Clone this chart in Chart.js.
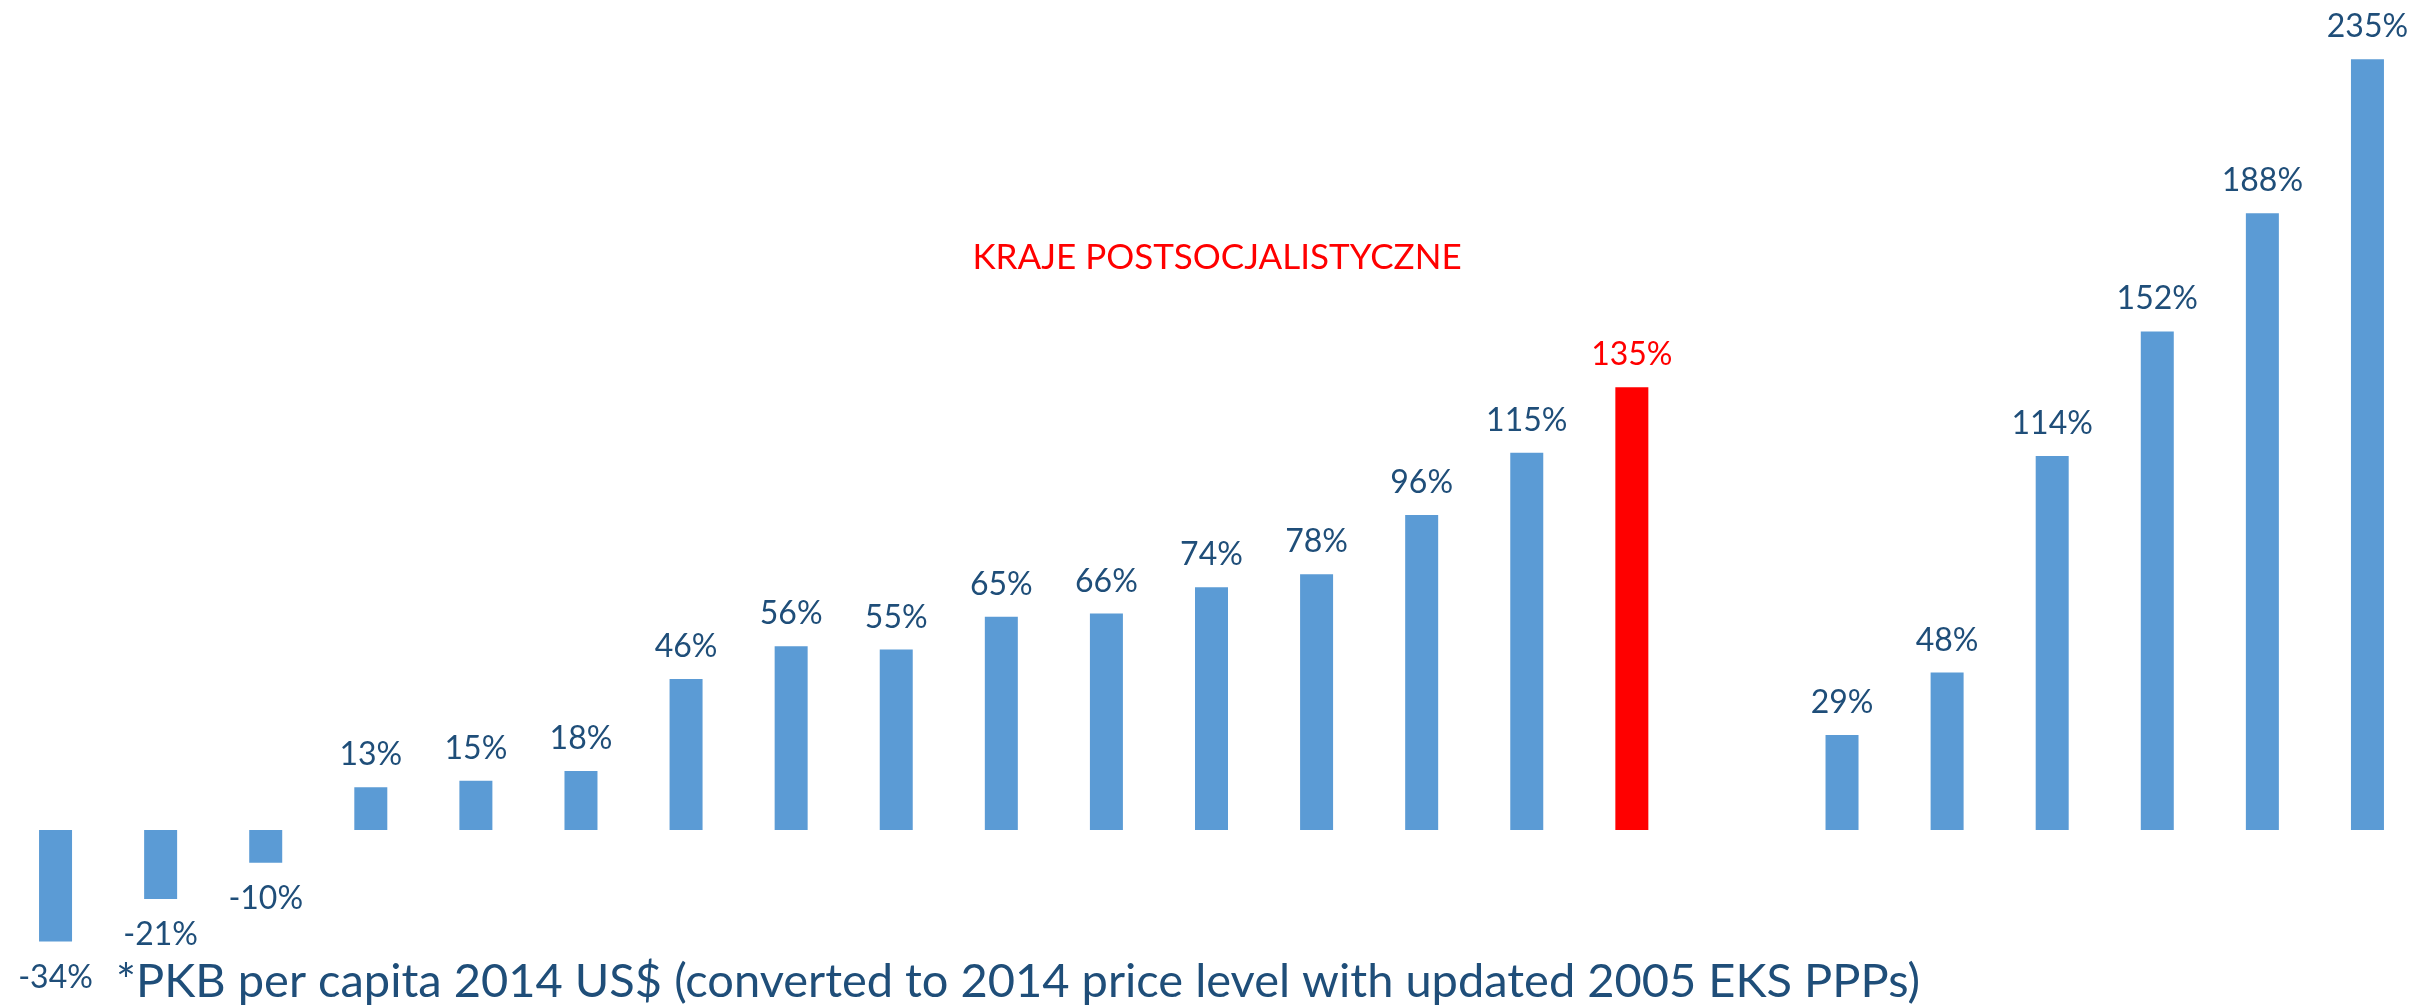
<!DOCTYPE html>
<html>
<head>
<meta charset="utf-8">
<script src="https://cdn.jsdelivr.net/npm/chart.js@4.4.1/dist/chart.umd.min.js"></script>
<style>
    html, body { margin: 0; padding: 0; background: #fff; }
    #wrap { width: 2420px; height: 1005px; }
</style>
</head>
<body>
<div id="wrap"><canvas id="gdpChart" width="2420" height="1005"></canvas></div>
<script>
// one slot per country, slot 17 is the empty gap between the two groups
const categories = ['1', '2', '3', '4', '5', '6', '7', '8', '9', '10', '11', '12',
    '13', '14', '15', '16', '17', '18', '19', '20', '21', '22', '23'];
const growth = [-34, -21, -10, 13, 15, 18, 46, 56, 55, 65, 66, 74,
    78, 96, 115, 135, null, 29, 48, 114, 152, 188, 235];
const highlightIndex = 15;

const groupTitle = 'KRAJE POSTSOCJALISTYCZNE';
const footnote = '*PKB per capita 2014 US$ (converted to 2014 price level with updated 2005 EKS PPPs)';

const BLUE = '#5B9BD5';
const RED = '#FF0000';
const LABEL_BLUE = '#1F4E79';
const FONT = 'Lato, "Open Sans", sans-serif';

const textPlugin = {
    id: 'textPlugin',
    afterDatasetsDraw(chart) {
        const ctx = chart.ctx;
        const meta = chart.getDatasetMeta(0);
        ctx.save();
        ctx.textAlign = 'center';
        ctx.textBaseline = 'alphabetic';
        ctx.font = `32px ${FONT}`;
        meta.data.forEach((bar, i) => {
            const v = growth[i];
            if (v === null) return;
            ctx.fillStyle = i === highlightIndex ? RED : LABEL_BLUE;
            const y = v >= 0 ? bar.y - 22 : bar.y + 46;
            ctx.fillText(v + '%', bar.x, y);
        });

        // group title
        ctx.fillStyle = RED;
        ctx.font = `35px ${FONT}`;
        ctx.fillText(groupTitle, 1217, 269);

        // footnote
        ctx.fillStyle = LABEL_BLUE;
        ctx.textAlign = 'left';
        ctx.font = `47px ${FONT}`;
        ctx.fillText(footnote, 116, 997);
        ctx.restore();
    }
};

new Chart(document.getElementById('gdpChart').getContext('2d'), {
    type: 'bar',
    data: {
        labels: categories,
        datasets: [{
            data: growth,
            backgroundColor: growth.map((v, i) => i === highlightIndex ? RED : BLUE),
            borderWidth: 0,
            categoryPercentage: 1,
            barPercentage: 0.314
        }]
    },
    options: {
        responsive: false,
        animation: false,
        layout: { padding: { left: 3, right: 0, top: 10, bottom: 11 } },
        scales: {
            x: { display: false },
            y: { display: false, min: -50, max: 250 }
        },
        plugins: {
            legend: { display: false },
            tooltip: { enabled: false }
        }
    },
    plugins: [textPlugin]
});
</script>
</body>
</html>
